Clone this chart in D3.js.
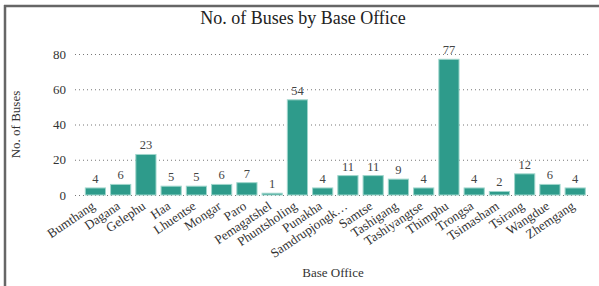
<!DOCTYPE html>
<html>
<head>
<meta charset="utf-8">
<script src="https://cdn.jsdelivr.net/npm/d3@7"></script>
<style>
  body { margin: 0; background: #fff; }
  svg, svg text { font-family: "Liberation Serif", "Times New Roman", serif; }
  svg { display: block; }
</style>
</head>
<body>
<svg id="chart"></svg>
<script>
// Data
const offices = ['Bumthang', 'Dagana', 'Gelephu', 'Haa', 'Lhuentse', 'Mongar', 'Paro',
  'Pemagatshel', 'Phuntsholing', 'Punakha', 'Samdrupjongkhar', 'Samtse', 'Tashigang',
  'Tashiyangtse', 'Thimphu', 'Trongsa', 'Tsimasham', 'Tsirang', 'Wangdue', 'Zhemgang'];
const buses = [4, 6, 23, 5, 5, 6, 7, 1, 54, 4, 11, 11, 9, 4, 77, 4, 2, 12, 6, 4];
const yTicks = [0, 20, 40, 60, 80];

const width = 599;
const height = 286;
const svg = d3.select('#chart').attr('width', width).attr('height', height);

const plotLeft = 75;
const plotRight = 591;
const plotBottom = 195;
const plotTop = 54;

// Frame (only left and top edges are visible in the reference)
svg.append('line').attr('x1', 5).attr('x2', 5).attr('y1', 5).attr('y2', height)
  .attr('stroke', '#666').attr('stroke-width', 2.5);
svg.append('line').attr('x1', 4).attr('x2', width).attr('y1', 6).attr('y2', 6)
  .attr('stroke', '#666').attr('stroke-width', 2.5);

const x = d3.scaleBand()
  .domain(offices)
  .range([75.2, 595.4])
  .paddingInner(0.2)
  .paddingOuter(0.4);

const y = d3.scaleLinear()
  .domain([0, 80])
  .range([plotBottom, plotTop]);

// Title
svg.append('text')
  .attr('x', 303).attr('y', 24)
  .attr('text-anchor', 'middle')
  .style('font-size', '18px')
  .attr('fill', '#222')
  .text('No. of Buses by Base Office');

// Grid + y tick labels
const yAxis = svg.append('g')
  .attr('transform', `translate(${plotLeft},0)`)
  .call(d3.axisLeft(y).tickValues(yTicks).tickSize(-(plotRight - plotLeft)).tickPadding(9));
yAxis.attr('font-family', null).attr('font-size', null);
yAxis.select('.domain').remove();
yAxis.selectAll('.tick line')
  .attr('stroke', '#777')
  .attr('stroke-dasharray', '1,3');
yAxis.selectAll('.tick text')
  .style('font-size', '13px')
  .attr('fill', '#333');

// Bars
const data = offices.map((o, i) => ({ office: o, value: buses[i] }));

svg.append('g')
  .selectAll('rect')
  .data(data)
  .enter()
  .append('rect')
  .attr('x', (d) => x(d.office))
  .attr('y', (d) => y(d.value))
  .attr('width', x.bandwidth())
  .attr('height', (d) => y(0) - y(d.value))
  .attr('fill', '#2e9b8b')
  .attr('stroke', '#9fd6cc')
  .attr('stroke-width', 1);

// Value labels
svg.append('g')
  .selectAll('text')
  .data(data)
  .enter()
  .append('text')
  .attr('x', (d) => x(d.office) + x.bandwidth() / 2)
  .attr('y', (d) => y(d.value) - 5)
  .attr('text-anchor', 'middle')
  .style('font-size', '12.5px')
  .attr('fill', '#444')
  .text((d) => d.value);

// X tick labels, rotated
const shortName = (s) => (s.length > 12 ? s.slice(0, 12) + '…' : s);
svg.append('g')
  .selectAll('text')
  .data(offices)
  .enter()
  .append('text')
  .attr('transform', (d) => `translate(${x(d) + x.bandwidth() / 2 - 5},${plotBottom + 5}) rotate(-34)`)
  .attr('text-anchor', 'end')
  .attr('dy', '0.75em')
  .style('font-size', '13px')
  .attr('fill', '#333')
  .text(shortName);

// Axis titles
svg.append('text')
  .attr('x', (plotLeft + plotRight) / 2)
  .attr('y', 277)
  .attr('text-anchor', 'middle')
  .style('font-size', '13px')
  .attr('fill', '#333')
  .text('Base Office');

svg.append('text')
  .attr('transform', `translate(20,${(plotTop + plotBottom) / 2}) rotate(-90)`)
  .attr('text-anchor', 'middle')
  .style('font-size', '13px')
  .attr('fill', '#333')
  .text('No. of Buses');
</script>
</body>
</html>
